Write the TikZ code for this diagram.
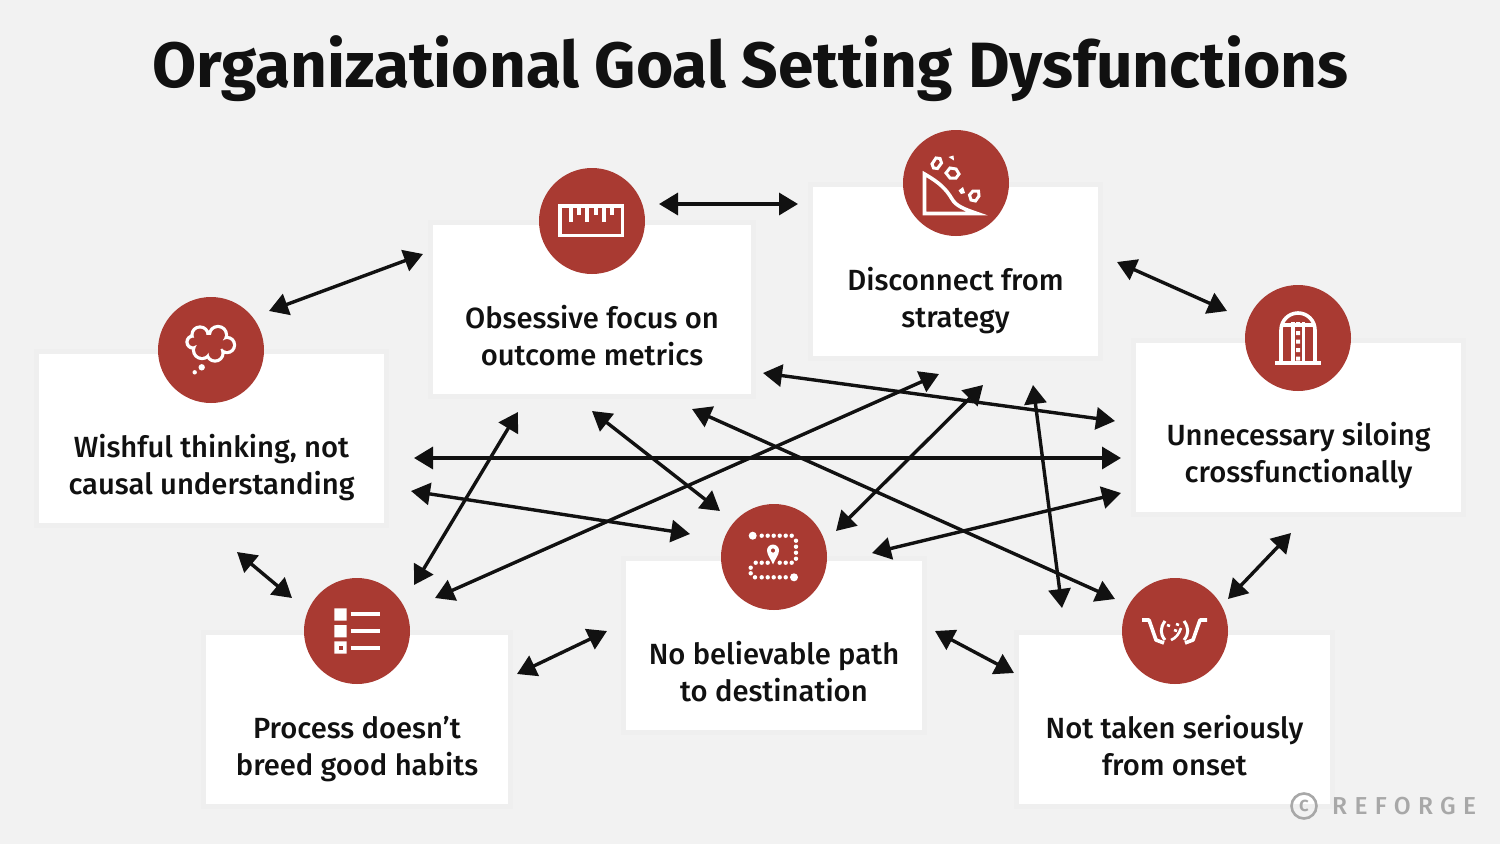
\documentclass[tikz,border=0pt]{standalone}
\usepackage{fontspec}
\setmainfont{Fira Sans}[BoldFont=Fira Sans Medium]
\newfontfamily\titlefont{Fira Sans Bold}
\newfontfamily\markfont[LetterSpace=30]{Fira Sans Medium}
\usetikzlibrary{arrows.meta}
\definecolor{R}{RGB}{169, 58, 50}
\definecolor{K}{RGB}{17, 17, 17}
\definecolor{BG}{RGB}{242, 242, 242}
\definecolor{H}{RGB}{239, 239, 239}
\definecolor{M}{RGB}{168, 168, 168}
\tikzset{
  card/.style={fill=white, inner sep=0pt, preaction={draw=H, line width=10pt}},
  badge/.style={circle, fill=R, minimum size=106pt, inner sep=0pt},
  cardtext/.style={align=center, text=K, font=\fontsize{29.2}{37.4}\selectfont\bfseries},
  link/.style={{Triangle[length=19pt,width=22pt]}-{Triangle[length=19pt,width=22pt]}, K, line width=3.4pt},
  glyph/.style={white, line width=3.6pt},
  thin glyph/.style={white, line width=3pt}
}
\begin{document}
\begin{tikzpicture}[x=1pt,y=-1pt]
  \useasboundingbox (0,0) rectangle (1500,844);
  \fill[BG] (0,0) rectangle (1500,844);
  \node[anchor=base, text=K, font=\fontsize{64}{70}\selectfont\titlefont] (title) at (750.5,87) {Organizational Goal Setting Dysfunctions};

  \node[card, minimum width=345pt, minimum height=169pt] (wishful) at (211.5,438.5) {};
  \node[card, minimum width=318pt, minimum height=169pt] (obsessive) at (592,309.5) {};
  \node[card, minimum width=285pt, minimum height=169pt] (disconnect) at (955.5,271.5) {};
  \node[card, minimum width=325pt, minimum height=169pt] (siloing) at (1298.5,427.5) {};
  \node[card, minimum width=302pt, minimum height=169pt] (process) at (357,719.5) {};
  \node[card, minimum width=296pt, minimum height=169pt] (path) at (774,645.5) {};
  \node[card, minimum width=311pt, minimum height=169pt] (onset) at (1174.5,719.5) {};

  \node[cardtext] (wishfultext) at (211.5,467.3) {Wishful thinking, not\\causal understanding};
  \node[cardtext] (obsessivetext) at (592,335.7) {Obsessive focus on\\outcome metrics};
  \node[cardtext] (disconnecttext) at (955.5,300.3) {Disconnect from\\strategy};
  \node[cardtext] (siloingtext) at (1298.5,455.3) {Unnecessary siloing\\crossfunctionally};
  \node[cardtext] (processtext) at (357,748.8) {Process doesn’t\\breed good habits};
  \node[cardtext] (pathtext) at (774,671.7) {No believable path\\to destination};
  \node[cardtext] (onsettext) at (1174.5,745.7) {Not taken seriously\\from onset};

  \node[badge] (wishfulbadge) at (211,350) {};
  \node[badge] (obsessivebadge) at (592,221) {};
  \node[badge] (disconnectbadge) at (956,183) {};
  \node[badge] (siloingbadge) at (1298,338) {};
  \node[badge] (processbadge) at (357,631) {};
  \node[badge] (pathbadge) at (774,557) {};
  \node[badge] (onsetbadge) at (1175,631) {};

  \begin{scope}[shift={(wishfulbadge.center)}]
    \fill[white] (-11,-15) circle (9.7) (7,-15) circle (10.2) (16,-5) circle (9.2) (4,3) circle (9.7) (-9,0) circle (10.2) (-18,-8) circle (7.7);
    \fill[R] (-11,-15) circle (6.4) (7,-15) circle (6.9) (16,-5) circle (5.9) (4,3) circle (6.4) (-9,0) circle (6.9) (-18,-8) circle (4.4);
    \fill[R] (-18,-8) -- (-11,-15) -- (7,-15) -- (16,-5) -- (4,3) -- (-9,0) -- cycle;
    \fill[white] (-9.3,17.3) circle (3.2) (-16.3,22.3) circle (2.2);
  \end{scope}

  \begin{scope}[shift={(obsessivebadge.center)}]
    \draw[glyph] (-32,-15.3) rectangle (30.6,14.3);
    \draw[white, line width=3.8pt] (-21.3,-16) -- (-21.3,0.7) (-4.7,-16) -- (-4.7,0.7) (12,-16) -- (12,0.7) (-13,-16) -- (-13,-6) (3.7,-16) -- (3.7,-6) (20.3,-16) -- (20.3,-6);
  \end{scope}

  \begin{scope}[shift={(disconnectbadge.center)}]
    \draw[glyph, line join=miter] (-31.5,30.5) -- (-31.5,-9) .. controls (-16,0) and (-10,6) .. (-4,16) .. controls (0,23) and (8,26) .. (21,30.5) -- cycle;
    \draw[thin glyph] (-24,-19) -- (-20,-25) -- (-16,-24.5) -- (-14.5,-20) -- (-18.5,-14.5) -- (-22.5,-15) -- cycle;
    \draw[thin glyph] (-10,-10) -- (-6,-15) -- (0,-14) -- (3,-9) -- (0,-5) -- (-6,-5) -- cycle;
    \draw[thin glyph] (13.5,12) -- (17,8) -- (22.5,8) -- (23,13) -- (19.5,18) -- (15,17) -- cycle;
    \fill[white] (-7.5,-26) -- (-2.5,-27.5) -- (-2,-22.5) -- cycle (2.5,7.5) -- (7,4) -- (9,10) -- (5,11) -- cycle;
  \end{scope}

  \begin{scope}[shift={(siloingbadge.center)}]
    \draw[glyph] (-23,25) -- (23,25);
    \draw[glyph] (-17,25) -- (-17,-8) arc[start angle=180, end angle=360, radius=17] -- (17,25);
    \draw[glyph] (-17,-13) -- (17,-13);
    \draw[glyph] (-5.3,-16) -- (-5.3,25) (5.3,-16) -- (5.3,25);
    \fill[white] (-2,-16) rectangle (2,-12) (-2,-7) rectangle (2,-3) (-2,1.5) rectangle (2,5.5) (-2,10) rectangle (2,14) (-2,18.5) rectangle (2,22.5);
  \end{scope}

  \begin{scope}[shift={(processbadge.center)}]
    \fill[white] (-22.7,-22.7) rectangle (-10.3,-10.3) (-22.7,-6) rectangle (-10.3,6.3) (-22.7,10.3) rectangle (-10.3,22.7);
    \fill[R] (-18.5,14.5) rectangle (-14.5,18.5);
    \draw[glyph] (-6.3,-17) -- (23,-17) (-6.3,0) -- (23,0) (-6.3,16.7) -- (23,16.7);
  \end{scope}

  \begin{scope}[shift={(pathbadge.center)}]
    \fill[white] (-21.3,-21.3) circle (4) (20,20.3) circle (4);
    \foreach \px/\py in {-12.3/-21.3,-6.3/-21.3,-0.3/-21.3,5.7/-21.3,11.7/-21.3,17.7/-21.3,22/-16.3,22/-10.3,22/-4.3,22/1.7,17.7/5.7,11.7/5.7,5.7/5.7,-6.3/5.7,-12.3/5.7,-18.3/5.7,-23.3/10.7,-23.3/16.3,-19/20.3,-12.3/20.3,-6.3/20.3,-0.3/20.3,5.7/20.3,11.7/20.3}
      \fill[white] (\px,\py) circle (2.2);
    \fill[white, even odd rule] (-1,7.5) .. controls (-3,2) and (-7,-2) .. (-7,-6.5) arc[start angle=180, end angle=360, radius=6] .. controls (5,-2) and (1,2) .. (-1,7.5) (-1,-6.5) circle (2.2);
  \end{scope}

  \begin{scope}[shift={(onsetbadge.center)}]
    \draw[glyph, line join=round] (-33,-11) -- (-26,-11) -- (-19,9) -- (-11,12);
    \draw[glyph, line join=round] (32,-11) -- (25,-11) -- (18,9) -- (10,12);
    \draw[white, line width=3pt] (-10,-10) .. controls (-15,-3) and (-15,3) .. (-10,9);
    \draw[white, line width=3pt] (9,-10) .. controls (14,-3) and (14,3) .. (9,9);
    \draw[white, line width=2.6pt] (-8,-6) -- (-5,-5) (1,-7) -- (4,-6) (-1,-1) -- (2,0) (-4,9) .. controls (1,7) and (4,3) .. (6,-3);
  \end{scope}

  \coordinate (wishtoobs) at (269,311);
  \coordinate (obstowish) at (423,254);
  \coordinate (obstodis) at (659,204);
  \coordinate (distoobs) at (798,204);
  \coordinate (distosilo) at (1117,262);
  \coordinate (silotodis) at (1227,311);
  \coordinate (obstosilo) at (763,373);
  \coordinate (silotoobs) at (1115,421);
  \coordinate (distoproc) at (939,374);
  \coordinate (proctodis) at (435,598);
  \coordinate (distopath) at (983,385);
  \coordinate (pathtodis) at (836,531);
  \coordinate (distoonset) at (1033,385);
  \coordinate (onsettodis) at (1062,608);
  \coordinate (obstoproc) at (518,412);
  \coordinate (proctoobs) at (414,585);
  \coordinate (obstopath) at (592,411);
  \coordinate (pathtoobs) at (720,511);
  \coordinate (obstoonset) at (692,409);
  \coordinate (onsettoobs) at (1115,599);
  \coordinate (wishtosilo) at (414,458);
  \coordinate (silotowish) at (1121,458);
  \coordinate (wishtopath) at (411,491);
  \coordinate (pathtowish) at (690,534);
  \coordinate (silotopath) at (1121,493);
  \coordinate (pathtosilo) at (872,553);
  \coordinate (wishtoproc) at (237,552);
  \coordinate (proctowish) at (292,598);
  \coordinate (proctopath) at (517,674);
  \coordinate (pathtoproc) at (607,631);
  \coordinate (pathtoonset) at (935,631);
  \coordinate (onsettopath) at (1014,673);
  \coordinate (silotoonset) at (1291,533);
  \coordinate (onsettosilo) at (1228,599);

  \draw[link] (wishtoobs) -- (obstowish);
  \draw[link] (obstodis) -- (distoobs);
  \draw[link] (distosilo) -- (silotodis);
  \draw[link] (obstosilo) -- (silotoobs);
  \draw[link] (distoproc) -- (proctodis);
  \draw[link] (distopath) -- (pathtodis);
  \draw[link] (distoonset) -- (onsettodis);
  \draw[link] (obstoproc) -- (proctoobs);
  \draw[link] (obstopath) -- (pathtoobs);
  \draw[link] (obstoonset) -- (onsettoobs);
  \draw[link] (wishtosilo) -- (silotowish);
  \draw[link] (wishtopath) -- (pathtowish);
  \draw[link] (silotopath) -- (pathtosilo);
  \draw[link] (wishtoproc) -- (proctowish);
  \draw[link] (proctopath) -- (pathtoproc);
  \draw[link] (pathtoonset) -- (onsettopath);
  \draw[link] (silotoonset) -- (onsettosilo);

  \node[circle, draw=M, line width=2.6pt, minimum size=25pt, inner sep=0pt, text=M, font=\fontsize{21}{21}\selectfont\markfont] (copyr) at (1304,806) {c};
  \node[anchor=base west, inner sep=0pt, text=M, font=\fontsize{24.5}{24.5}\selectfont\markfont] (mark) at (1332,814) {REFORGE};
\end{tikzpicture}
\end{document}
